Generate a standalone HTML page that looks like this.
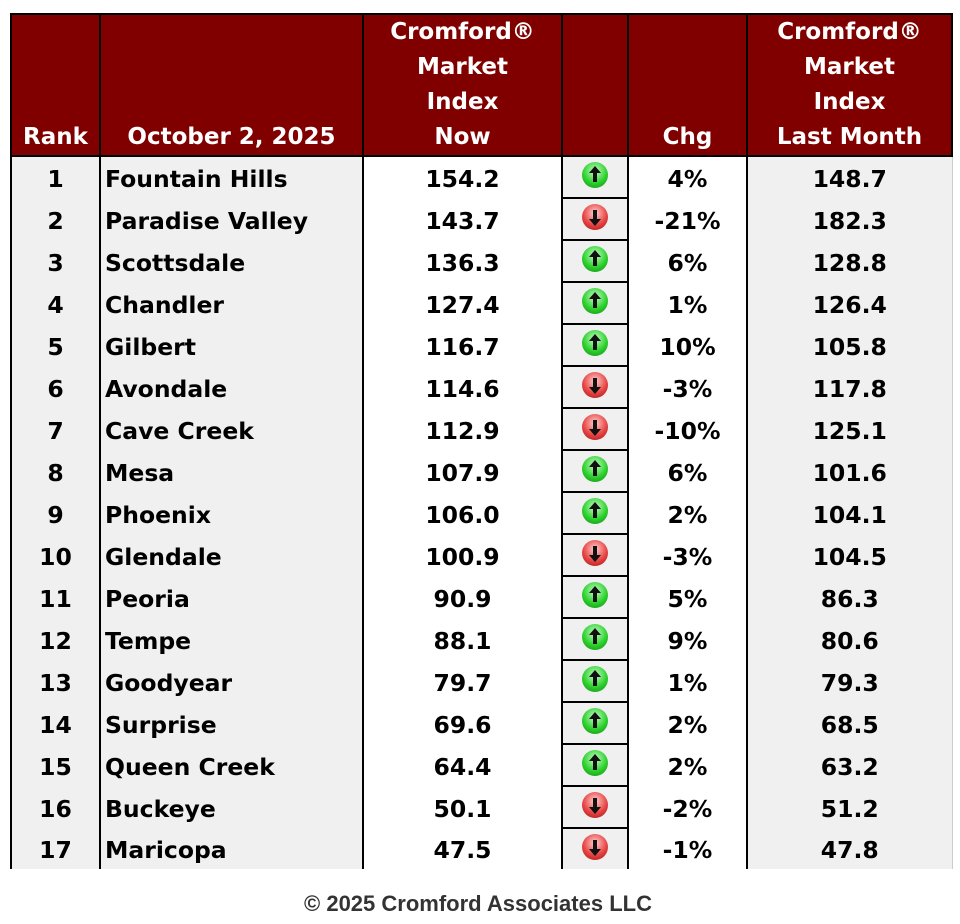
<!DOCTYPE html>
<html><head><meta charset="utf-8"><style>
body{margin:0;width:960px;height:924px;background:#fff;position:relative;font-family:"DejaVu Sans","Liberation Sans",sans-serif;font-weight:bold;overflow:hidden}
table{position:absolute;left:10px;top:13px;border-collapse:collapse;table-layout:fixed}
th{background:#800000;color:#fff;font-size:23px;line-height:35px;height:138px;padding:0;text-align:center;vertical-align:bottom;border:2px solid #000}
td{height:37px;padding:3px 0 0 0;font-size:23.5px;text-align:center;border-left:2px solid #000;border-right:2px solid #000;color:#000;line-height:24px}
td.r{background:#f0f0f0}
td.n{background:#f0f0f0;text-align:left;padding-left:4px}
td.w{background:#fff}
td.i{background:#f0f0f0;border-top:2px solid #000;vertical-align:top;padding:0;height:40px}
td.l{background:#f0f0f0;border-left:1px solid #bbb;border-right:1px solid #ccc}
.c{display:inline-block;width:26px;height:26px;border-radius:50%;margin-top:5px;position:relative}
.u{background:radial-gradient(circle at 50% 35%,#c8ffc8,#2ed12e 55%,#0f8a0f)}
.d{background:radial-gradient(circle at 50% 35%,#ffd0d0,#e84545 55%,#a01010)}
.c:before{content:"";position:absolute;left:11px;width:4px;height:10px;background:#111}
.c:after{content:"";position:absolute;left:7px;width:0;height:0;border-left:6px solid transparent;border-right:6px solid transparent}
.u:before{top:10px}.u:after{top:4px;border-bottom:7px solid #111}
.d:before{top:6px}.d:after{top:15px;border-top:7px solid #111}
.f{position:absolute;top:891px;left:0;width:956px;text-align:center;font-family:"Liberation Sans",sans-serif;font-size:22px;color:#333}
</style></head><body>
<table>
<colgroup><col style="width:89px"><col style="width:263px"><col style="width:199px"><col style="width:66px"><col style="width:119px"><col style="width:205px"></colgroup>
<tr><th>Rank</th><th>October 2, 2025</th><th>Cromford®<br>Market<br>Index<br>Now</th><th></th><th>Chg</th><th>Cromford®<br>Market<br>Index<br>Last Month</th></tr>
<tr><td class="r">1</td><td class="n">Fountain Hills</td><td class="w">154.2</td><td class="i"><span class="c u"></span></td><td class="w">4%</td><td class="l">148.7</td></tr>
<tr><td class="r">2</td><td class="n">Paradise Valley</td><td class="w">143.7</td><td class="i"><span class="c d"></span></td><td class="w">-21%</td><td class="l">182.3</td></tr>
<tr><td class="r">3</td><td class="n">Scottsdale</td><td class="w">136.3</td><td class="i"><span class="c u"></span></td><td class="w">6%</td><td class="l">128.8</td></tr>
<tr><td class="r">4</td><td class="n">Chandler</td><td class="w">127.4</td><td class="i"><span class="c u"></span></td><td class="w">1%</td><td class="l">126.4</td></tr>
<tr><td class="r">5</td><td class="n">Gilbert</td><td class="w">116.7</td><td class="i"><span class="c u"></span></td><td class="w">10%</td><td class="l">105.8</td></tr>
<tr><td class="r">6</td><td class="n">Avondale</td><td class="w">114.6</td><td class="i"><span class="c d"></span></td><td class="w">-3%</td><td class="l">117.8</td></tr>
<tr><td class="r">7</td><td class="n">Cave Creek</td><td class="w">112.9</td><td class="i"><span class="c d"></span></td><td class="w">-10%</td><td class="l">125.1</td></tr>
<tr><td class="r">8</td><td class="n">Mesa</td><td class="w">107.9</td><td class="i"><span class="c u"></span></td><td class="w">6%</td><td class="l">101.6</td></tr>
<tr><td class="r">9</td><td class="n">Phoenix</td><td class="w">106.0</td><td class="i"><span class="c u"></span></td><td class="w">2%</td><td class="l">104.1</td></tr>
<tr><td class="r">10</td><td class="n">Glendale</td><td class="w">100.9</td><td class="i"><span class="c d"></span></td><td class="w">-3%</td><td class="l">104.5</td></tr>
<tr><td class="r">11</td><td class="n">Peoria</td><td class="w">90.9</td><td class="i"><span class="c u"></span></td><td class="w">5%</td><td class="l">86.3</td></tr>
<tr><td class="r">12</td><td class="n">Tempe</td><td class="w">88.1</td><td class="i"><span class="c u"></span></td><td class="w">9%</td><td class="l">80.6</td></tr>
<tr><td class="r">13</td><td class="n">Goodyear</td><td class="w">79.7</td><td class="i"><span class="c u"></span></td><td class="w">1%</td><td class="l">79.3</td></tr>
<tr><td class="r">14</td><td class="n">Surprise</td><td class="w">69.6</td><td class="i"><span class="c u"></span></td><td class="w">2%</td><td class="l">68.5</td></tr>
<tr><td class="r">15</td><td class="n">Queen Creek</td><td class="w">64.4</td><td class="i"><span class="c u"></span></td><td class="w">2%</td><td class="l">63.2</td></tr>
<tr><td class="r">16</td><td class="n">Buckeye</td><td class="w">50.1</td><td class="i"><span class="c d"></span></td><td class="w">-2%</td><td class="l">51.2</td></tr>
<tr><td class="r">17</td><td class="n">Maricopa</td><td class="w">47.5</td><td class="i"><span class="c d"></span></td><td class="w">-1%</td><td class="l">47.8</td></tr>
</table>
<div class="f">© 2025 Cromford Associates LLC</div>
</body></html>
